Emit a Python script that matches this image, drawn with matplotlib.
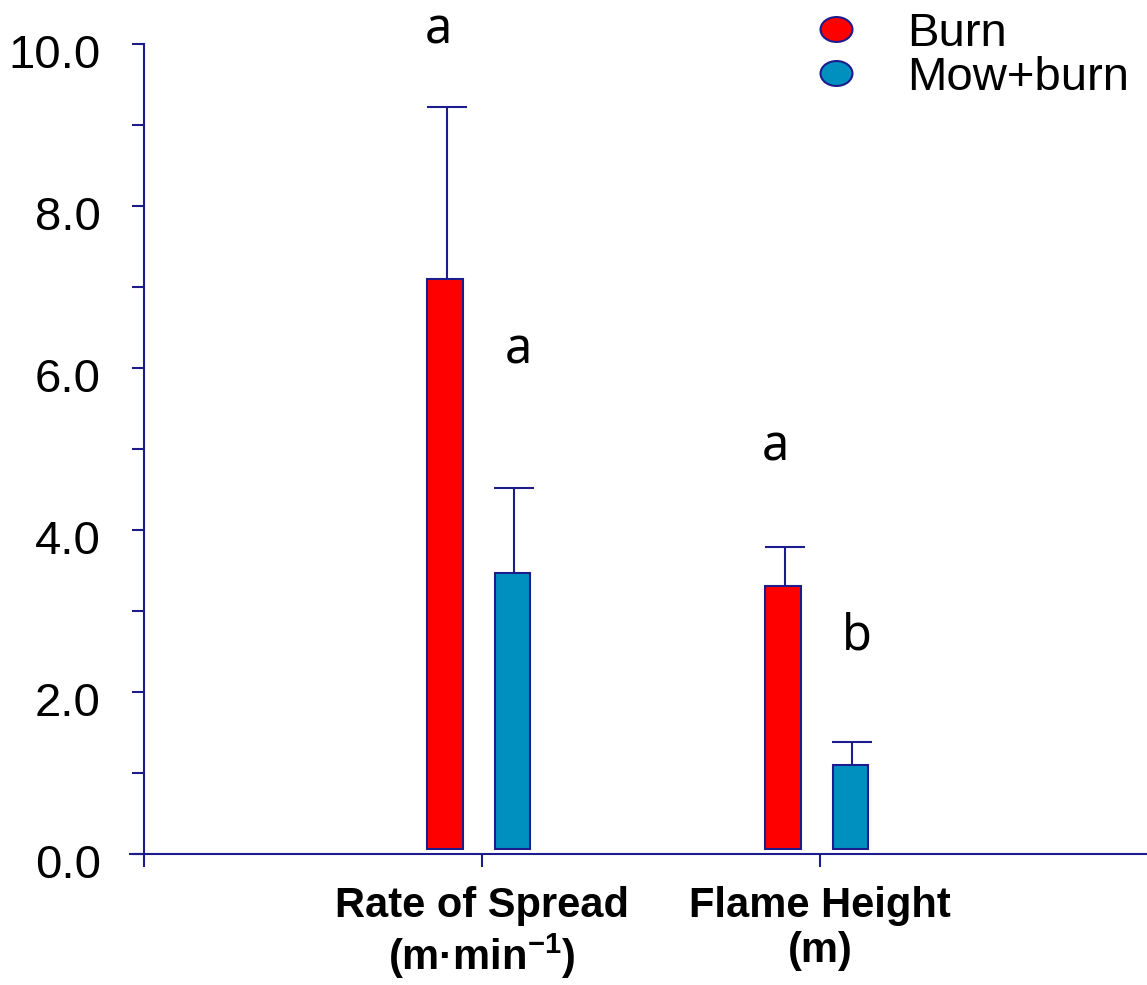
import numpy as np
import matplotlib
matplotlib.use("Agg")
from matplotlib import pyplot as plt
from matplotlib.path import Path
from matplotlib.transforms import Affine2D, ScaledTranslation

#--- Data
categories = ["Rate of Spread\n(m·min$^{\\mathbf{-1}}$)", "Flame Height\n(m)"]
burn_mean = [7.10, 3.31]
burn_err = [2.12, 0.48]
mow_mean = [3.47, 1.10]
mow_err = [1.05, 0.28]
letters_burn = ["a", "a"]
letters_mow = ["a", "b"]

#--- Style
plt.rcParams['font.family'] = ['Liberation Sans', 'DejaVu Sans']
plt.rcParams['mathtext.fontset'] = 'custom'
plt.rcParams['mathtext.rm'] = 'Liberation Sans'
plt.rcParams['mathtext.bf'] = 'Liberation Sans:bold'
plt.rcParams['axes.unicode_minus'] = False
navy = "#1c1c8c"
red = "#ff0000"
blue = "#0090c0"

fig = plt.figure(figsize=(11.47, 9.85), dpi=100)
ax = fig.add_axes([144 / 1147, 131 / 985, 1014 / 1147, 810 / 985])

x = np.arange(1, len(categories) + 1)
width = 0.105
base = 0.06

ax.bar(x - 0.11, np.array(burn_mean) - base, width, bottom=base, color=red,
       edgecolor=navy, linewidth=1.5, label="Burn", zorder=3)
ax.bar(x + 0.09, np.array(mow_mean) - base, width, bottom=base, color=blue,
       edgecolor=navy, linewidth=1.5, label="Mow+burn", zorder=3)

#--- Upper error bars only (cap on top)
for xs, mean, err in [(x - 0.105, burn_mean, burn_err), (x + 0.095, mow_mean, mow_err)]:
    top = np.array(mean) + np.array(err)
    ax.errorbar(xs, mean, yerr=[np.zeros(2), err], fmt="none",
                ecolor=navy, elinewidth=1.5, capsize=0, zorder=2)
    ax.plot(xs, top, linestyle="none", marker="_", markersize=29,
            markeredgewidth=1.5, color=navy, zorder=2)

#--- Significance letters
letter_font = dict(fontsize=35, family=["Noto Sans", "DejaVu Sans"], ha="center", va="center")
ax.text(x[0] - 0.13, 10.17, letters_burn[0], **letter_font)
ax.text(x[0] + 0.107, 6.22, letters_mow[0], **letter_font)
ax.text(x[1] - 0.133, 5.02, letters_burn[1], **letter_font)
ax.text(x[1] + 0.11, 2.68, letters_mow[1], **letter_font)

#--- Axes
ax.set_xlim(0, 3)
ax.set_ylim(0, 10)
ax.spines["top"].set_visible(False)
ax.spines["right"].set_visible(False)
ax.spines["left"].set_color(navy)
ax.spines["bottom"].set_color(navy)
ax.spines["left"].set_linewidth(1.5)
ax.spines["bottom"].set_linewidth(1.5)
ax.spines["bottom"].set_bounds(-0.04, 3)

ax.set_yticks(np.arange(0, 10.1, 2))
ax.set_yticks(np.arange(1, 10, 2), minor=True)
ax.set_yticklabels([f"{v:.1f}" for v in np.arange(0, 10.1, 2)])
ax.set_xticks([0] + list(x))
ax.set_xticklabels([""] + categories, fontweight="bold", fontsize=30)
ax.tick_params(axis="y", which="both", length=9, width=1.5, color=navy,
               labelsize=34, pad=22)
ax.tick_params(axis="x", length=9, width=1.5, color=navy, pad=14)
for lab in ax.get_xticklabels():
    lab.set_linespacing(1.15)
# y labels sit a little below their ticks in the original
shift = ScaledTranslation(0, -0.07, fig.dpi_scale_trans)
for lab in ax.get_yticklabels():
    lab.set_transform(lab.get_transform() + shift)

#--- Legend (slightly flattened circles)
ellipse = Path.unit_circle().transformed(Affine2D().scale(1.0, 0.78))
leg_handles = [
    plt.Line2D([], [], marker=ellipse, linestyle="none", markersize=23,
               markerfacecolor=red, markeredgecolor=navy, markeredgewidth=1.5),
    plt.Line2D([], [], marker=ellipse, linestyle="none", markersize=23,
               markerfacecolor=blue, markeredgecolor=navy, markeredgewidth=1.5),
]
fig.legend(leg_handles, ["Burn", "Mow+burn"], loc="upper right",
           bbox_to_anchor=(1.005, 1.012), frameon=False, fontsize=34,
           handlelength=1.0, handletextpad=1.0, labelspacing=0.0,
           borderaxespad=0.1)

fig.savefig("out.png", dpi=100)
